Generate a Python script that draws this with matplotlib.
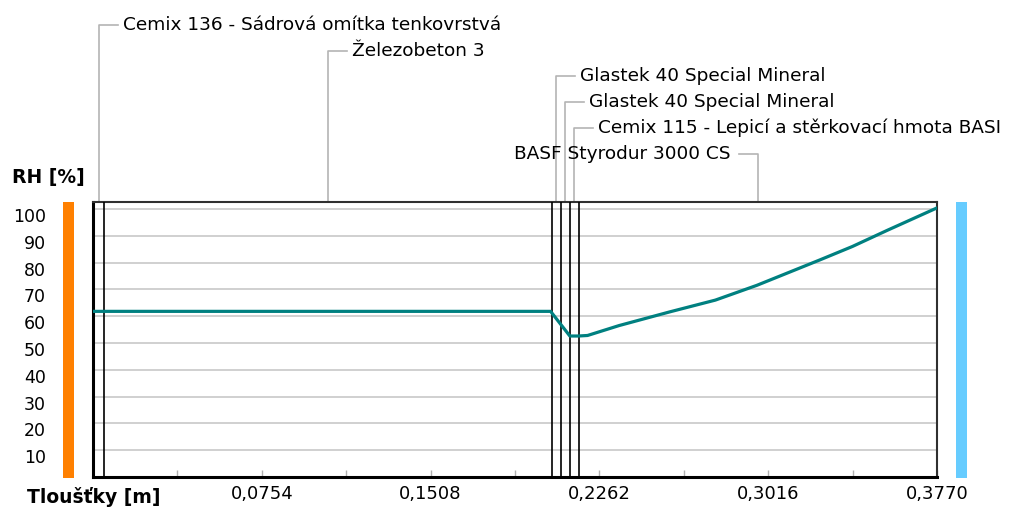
import numpy as np
import matplotlib
matplotlib.use('Agg')
from matplotlib import pyplot as plt
from matplotlib.patches import Rectangle
import matplotlib.transforms as mtransforms

# layers of the wall (inside -> outside)
layer_names = ['Cemix 136 - Sádrová omítka tenkovrstvá',
               'Železobeton 3',
               'Glastek 40 Special Mineral',
               'Glastek 40 Special Mineral',
               'Cemix 115 - Lepicí a stěrkovací hmota BASI',
               'BASF Styrodur 3000 CS']
layer_thickness = [0.005, 0.2, 0.004, 0.004, 0.004, 0.16]

# relative humidity profile
rh_x = [0.0, 0.2044, 0.2130, 0.2169, 0.2209, 0.2350, 0.2576, 0.2780, 0.2965, 0.3247, 0.3392, 0.3547, 0.3770]
rh_y = [61.8, 61.8, 52.6, 52.6, 52.8, 56.5, 61.6, 66.0, 71.5, 81.0, 86.0, 92.0, 100.4]

x_ticks = [0.0377 * k for k in range(1, 11)]
x_labels = ['' if k % 2 else '%.4f' % (0.0377 * k) for k in range(1, 11)]
x_labels = [s.replace('.', ',') for s in x_labels]
y_ticks = list(range(10, 101, 10))

W, H = 1010, 508
fig = plt.figure(figsize=(W / 100, H / 100), dpi=100)
ax = fig.add_axes([93 / W, 31 / H, 844 / W, 275 / H])

total = sum(layer_thickness)
ax.set_xlim(0, total)
ax.set_ylim(0, 102.6)

for y in y_ticks:
    ax.axhline(y, color='#c8c8c8', lw=1.2, zorder=1)

bounds = np.cumsum([0] + layer_thickness)
for b in bounds[1:-1]:
    ax.axvline(b, color='black', lw=1.2, zorder=3)

ax.plot(rh_x, rh_y, color='#008080', lw=2.3, zorder=4)

for side in ['left', 'bottom']:
    ax.spines[side].set_linewidth(2.2)
    ax.spines[side].set_color('black')
for side in ['top', 'right']:
    ax.spines[side].set_linewidth(1.5)
    ax.spines[side].set_color('#303030')

ax.set_xticks(x_ticks)
ax.set_xticklabels(x_labels)
ax.tick_params(axis='x', direction='in', length=5, width=1, color='#b0b0b0',
               labelsize=13, pad=6)
ax.set_yticks(y_ticks)
ax.set_yticklabels([str(v) for v in y_ticks])
ax.tick_params(axis='y', length=0, labelsize=12.5, pad=34)
shift = mtransforms.ScaledTranslation(0, -6 / 100, fig.dpi_scale_trans)
for lab in ax.get_yticklabels():
    lab.set_transform(lab.get_transform() + shift)

# inside / outside colour bars
ax.add_patch(Rectangle((-30 / 844, -0.005), 11 / 844, 1.005, transform=ax.transAxes,
                       facecolor='#ff8000', edgecolor='none', clip_on=False))
ax.add_patch(Rectangle((1 + 19 / 844, -0.005), 11 / 844, 1.005, transform=ax.transAxes,
                       facecolor='#66ccff', edgecolor='none', clip_on=False))

# layer labels with leader lines
trans = mtransforms.blended_transform_factory(ax.transData, ax.transAxes)
px = total / 844
levels = [25, 51, 76, 102, 128, 154]
for i, name in enumerate(layer_names):
    xm = (bounds[i] + bounds[i + 1]) / 2
    ya = (H - levels[i] - 31) / 275
    if i == len(layer_names) - 1:
        xe = xm - 19 * px
        ax.plot([xm, xm, xe], [1, ya, ya], color='#b4b4b4', lw=1.2,
                transform=trans, clip_on=False)
        ax.text(xe - 8 * px, ya, name, transform=trans, ha='right', va='center',
                fontsize=13.3)
    else:
        xe = xm + 19 * px
        ax.plot([xm, xm, xe], [1, ya, ya], color='#b4b4b4', lw=1.2,
                transform=trans, clip_on=False)
        ax.text(xe + 5 * px, ya, name, transform=trans, ha='left', va='center',
                fontsize=13.3)

fig.text(12 / W, 1 - 178 / H, 'RH [%]', fontsize=13.5, fontweight='bold', va='center')
fig.text(27 / W, 1 - 497 / H, 'Tloušťky [m]', fontsize=13.5, fontweight='bold', va='center')

fig.savefig('out.png', dpi=100)
